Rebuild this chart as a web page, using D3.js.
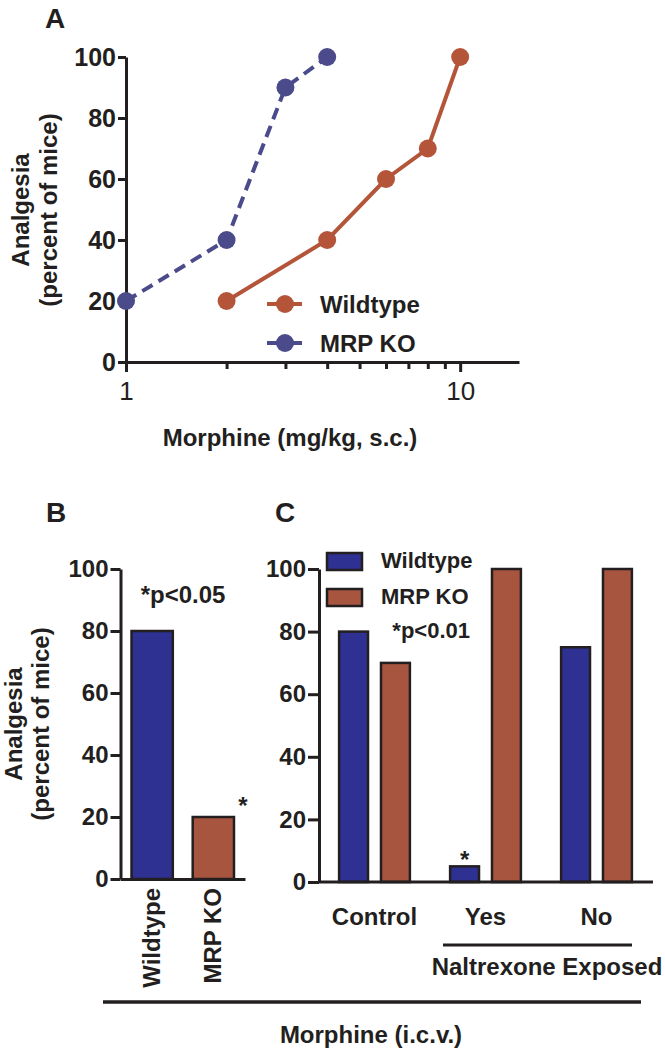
<!DOCTYPE html>
<html>
<head>
<meta charset="utf-8">
<script src="https://cdn.jsdelivr.net/npm/d3@7"></script>
<style>
  html, body { margin: 0; padding: 0; background: #fff; }
  svg { display: block; font-family: "Liberation Sans", Arial, sans-serif; }
</style>
</head>
<body>
<svg id="chart" width="665" height="1049"></svg>
<script>
// ---------- DATA ----------
// Panel A: dose-response (Morphine mg/kg, s.c.) vs analgesia (% mice)
const wildtypeDose = [2, 4, 6, 8, 10];
const wildtypePct  = [20, 40, 60, 70, 100];
const mrpDose = [1, 2, 3, 4];
const mrpPct  = [20, 40, 90, 100];
const seriesNames = ["Wildtype", "MRP KO"];
const yTicks = [0, 20, 40, 60, 80, 100];
const xTicksMajorA = [1, 10];
const xTicksMinorA = [2, 3, 4, 5, 6, 7, 8, 9];

// Panel B: Morphine i.c.v.
const catsB = ["Wildtype", "MRP KO"];
const valsB = [80, 20];
const noteB = "*p<0.05";

// Panel C: naltrexone exposure
const groupsC = ["Control", "Yes", "No"];
const wildtypeC = [80, 5, 75];
const mrpC = [70, 100, 100];
const noteC = "*p<0.01";

const yLabel1 = "Analgesia";
const yLabel2 = "(percent of mice)";
const xLabelA = "Morphine (mg/kg, s.c.)";
const groupLabelC = "Naltrexone Exposed";
const bottomLabel = "Morphine (i.c.v.)";

// ---------- STYLE ----------
const INK = "#231F20";
const COL_WT_LINE = "#B4553A";
const COL_KO_LINE = "#4B4A8A";
const COL_WT_BAR = "#2E3192";
const COL_KO_BAR = "#A8553F";
const FONT_BOLD = 700;

const svg = d3.select("#chart");

function styleAxis(g) {
  g.selectAll("path.domain").attr("stroke", INK).attr("stroke-width", 3);
  g.selectAll(".tick line").attr("stroke", INK).attr("stroke-width", 3);
  g.selectAll(".tick text").attr("fill", INK);
}

function panelLetter(t, x, y) {
  svg.append("text").attr("x", x).attr("y", y).text(t)
    .attr("font-size", 28).attr("font-weight", FONT_BOLD).attr("fill", INK);
}

function yTitle(xa, xb, cy) {
  svg.append("text").attr("transform", `translate(${xa},${cy}) rotate(-90)`)
    .attr("text-anchor", "middle").attr("font-size", 24).attr("font-weight", FONT_BOLD)
    .attr("fill", INK).text(yLabel1);
  svg.append("text").attr("transform", `translate(${xb},${cy}) rotate(-90)`)
    .attr("text-anchor", "middle").attr("font-size", 24).attr("font-weight", FONT_BOLD)
    .attr("fill", INK).text(yLabel2);
}

// ================= PANEL A =================
{
  const x = d3.scaleLog().domain([1, 15]).range([126, 519]);
  const y = d3.scaleLinear().domain([0, 100]).range([362, 57]);

  panelLetter("A", 45, 28);
  yTitle(29, 57, 210);

  // y axis
  const gy = svg.append("g").attr("transform", "translate(126,0)")
    .call(d3.axisLeft(y).tickValues(yTicks).tickSize(8).tickSizeOuter(0).tickPadding(2));
  gy.selectAll(".tick text").attr("font-size", 25).attr("font-weight", FONT_BOLD);
  styleAxis(gy);

  // x axis (log) : major ticks with labels
  const gx = svg.append("g").attr("transform", "translate(0,362)")
    .call(d3.axisBottom(x).tickValues(xTicksMajorA).tickFormat(d3.format("d"))
      .tickSize(10).tickSizeOuter(0).tickPadding(10));
  gx.selectAll(".tick text").attr("font-size", 26).attr("font-weight", 400);
  styleAxis(gx);
  // minor ticks
  const gxm = svg.append("g").attr("transform", "translate(0,362)")
    .call(d3.axisBottom(x).tickValues(xTicksMinorA).tickFormat("").tickSize(7).tickSizeOuter(0));
  gxm.select("path.domain").remove();
  styleAxis(gxm);

  svg.append("text").attr("x", 290).attr("y", 446).attr("text-anchor", "middle")
    .attr("font-size", 24).attr("font-weight", FONT_BOLD).attr("fill", INK).text(xLabelA);

  const line = d3.line().x(d => x(d[0])).y(d => y(d[1]));
  const wt = wildtypeDose.map((d, i) => [d, wildtypePct[i]]);
  const ko = mrpDose.map((d, i) => [d, mrpPct[i]]);

  svg.append("path").datum(wt).attr("d", line).attr("fill", "none")
    .attr("stroke", COL_WT_LINE).attr("stroke-width", 4);
  svg.append("path").datum(ko).attr("d", line).attr("fill", "none")
    .attr("stroke", COL_KO_LINE).attr("stroke-width", 4).attr("stroke-dasharray", "12,7");

  svg.append("g").selectAll("circle").data(wt).join("circle")
    .attr("cx", d => x(d[0])).attr("cy", d => y(d[1])).attr("r", 9).attr("fill", COL_WT_LINE);
  svg.append("g").selectAll("circle").data(ko).join("circle")
    .attr("cx", d => x(d[0])).attr("cy", d => y(d[1])).attr("r", 9).attr("fill", COL_KO_LINE);

  // legend
  const leg = [
    { name: seriesNames[0], col: COL_WT_LINE, cy: 304 },
    { name: seriesNames[1], col: COL_KO_LINE, cy: 343 }
  ];
  leg.forEach(l => {
    svg.append("line").attr("x1", 267).attr("x2", 302).attr("y1", l.cy).attr("y2", l.cy)
      .attr("stroke", l.col).attr("stroke-width", 4);
    svg.append("circle").attr("cx", 285).attr("cy", l.cy).attr("r", 9).attr("fill", l.col);
    svg.append("text").attr("x", 320).attr("y", l.cy + 9).attr("font-size", 24)
      .attr("font-weight", FONT_BOLD).attr("fill", INK).text(l.name);
  });
}

// ================= PANEL B =================
{
  const y = d3.scaleLinear().domain([0, 100]).range([879, 569]);
  const x = d3.scaleBand().domain(catsB).range([120.5, 245]).paddingInner(0.325).paddingOuter(0.18);

  panelLetter("B", 46, 522);
  yTitle(22, 49, 724);

  svg.append("g").selectAll("rect").data(catsB).join("rect")
    .attr("x", d => x(d)).attr("width", x.bandwidth())
    .attr("y", (d, i) => y(valsB[i])).attr("height", (d, i) => y(0) - y(valsB[i]))
    .attr("fill", (d, i) => i === 0 ? COL_WT_BAR : COL_KO_BAR)
    .attr("stroke", INK).attr("stroke-width", 2.5);

  const gy = svg.append("g").attr("transform", "translate(120.5,0)")
    .call(d3.axisLeft(y).tickValues(yTicks).tickSize(10).tickSizeOuter(0).tickPadding(2));
  gy.selectAll(".tick text").attr("font-size", 24).attr("font-weight", FONT_BOLD);
  styleAxis(gy);

  // x axis baseline
  const gx = svg.append("g").attr("transform", "translate(0,879)")
    .call(d3.axisBottom(x).tickSize(0).tickSizeOuter(0).tickFormat(""));
  styleAxis(gx);

  // rotated category labels
  svg.append("g").selectAll("text").data(catsB).join("text")
    .attr("transform", d => `translate(${x(d) + x.bandwidth() / 2 - 1},888) rotate(-90)`)
    .attr("text-anchor", "end").attr("dy", "0.35em")
    .attr("font-size", 24).attr("font-weight", FONT_BOLD).attr("fill", INK).text(d => d);

  svg.append("text").attr("x", 183).attr("y", 603).attr("text-anchor", "middle")
    .attr("font-size", 24).attr("font-weight", FONT_BOLD).attr("fill", INK).text(noteB);
  svg.append("text").attr("x", x(catsB[1]) + x.bandwidth() + 9).attr("y", 814).attr("text-anchor", "middle")
    .attr("font-size", 24).attr("font-weight", FONT_BOLD).attr("fill", INK).text("*");
}

// ================= PANEL C =================
{
  const y = d3.scaleLinear().domain([0, 100]).range([882, 569]);
  const x0 = d3.scaleBand().domain(groupsC).range([319, 652]).paddingInner(0).paddingOuter(0);
  const x1 = d3.scaleBand().domain(seriesNames).range([0, x0.bandwidth()]).paddingInner(0.31).paddingOuter(0.48);

  panelLetter("C", 275, 522);

  const rows = [];
  groupsC.forEach((g, i) => {
    rows.push({ g, s: seriesNames[0], v: wildtypeC[i], col: COL_WT_BAR });
    rows.push({ g, s: seriesNames[1], v: mrpC[i], col: COL_KO_BAR });
  });
  svg.append("g").selectAll("rect").data(rows).join("rect")
    .attr("x", d => x0(d.g) + x1(d.s)).attr("width", x1.bandwidth())
    .attr("y", d => y(d.v)).attr("height", d => y(0) - y(d.v))
    .attr("fill", d => d.col).attr("stroke", INK).attr("stroke-width", 2.5);

  const gy = svg.append("g").attr("transform", "translate(319,0)")
    .call(d3.axisLeft(y).tickValues(yTicks).tickSize(11).tickSizeOuter(0).tickPadding(2));
  gy.selectAll(".tick text").attr("font-size", 24).attr("font-weight", FONT_BOLD);
  styleAxis(gy);

  const gx = svg.append("g").attr("transform", "translate(0,882)")
    .call(d3.axisBottom(x0).tickSize(0).tickSizeOuter(0).tickPadding(26));
  gx.selectAll(".tick text").attr("font-size", 24).attr("font-weight", FONT_BOLD);
  styleAxis(gx);
  gx.select("path.domain").attr("d", "M319,0H653");

  // asterisk over Yes / Wildtype
  svg.append("text").attr("x", x0("Yes") + x1(seriesNames[0]) + x1.bandwidth() / 2).attr("y", 868)
    .attr("text-anchor", "middle").attr("font-size", 24).attr("font-weight", FONT_BOLD)
    .attr("fill", INK).text("*");

  // legend
  [{ n: seriesNames[0], c: COL_WT_BAR, y: 553 }, { n: seriesNames[1], c: COL_KO_BAR, y: 589 }].forEach(l => {
    svg.append("rect").attr("x", 327).attr("y", l.y).attr("width", 35).attr("height", 17)
      .attr("fill", l.c).attr("stroke", INK).attr("stroke-width", 2.5);
    svg.append("text").attr("x", 381).attr("y", l.y + 15).attr("font-size", 22)
      .attr("font-weight", FONT_BOLD).attr("fill", INK).text(l.n);
  });
  svg.append("text").attr("x", 470).attr("y", 638).attr("text-anchor", "end")
    .attr("font-size", 22).attr("font-weight", FONT_BOLD).attr("fill", INK).text(noteC);

  // Naltrexone exposed bracket
  svg.append("line").attr("x1", 443).attr("x2", 632).attr("y1", 945).attr("y2", 945)
    .attr("stroke", INK).attr("stroke-width", 3);
  svg.append("text").attr("x", 547).attr("y", 975).attr("text-anchor", "middle")
    .attr("font-size", 24).attr("font-weight", FONT_BOLD).attr("fill", INK).text(groupLabelC);
}

// bottom bracket
svg.append("line").attr("x1", 103).attr("x2", 641).attr("y1", 1002).attr("y2", 1002)
  .attr("stroke", INK).attr("stroke-width", 3.5);
svg.append("text").attr("x", 371).attr("y", 1043).attr("text-anchor", "middle")
  .attr("font-size", 24).attr("font-weight", FONT_BOLD).attr("fill", INK).text(bottomLabel);
</script>
</body>
</html>
